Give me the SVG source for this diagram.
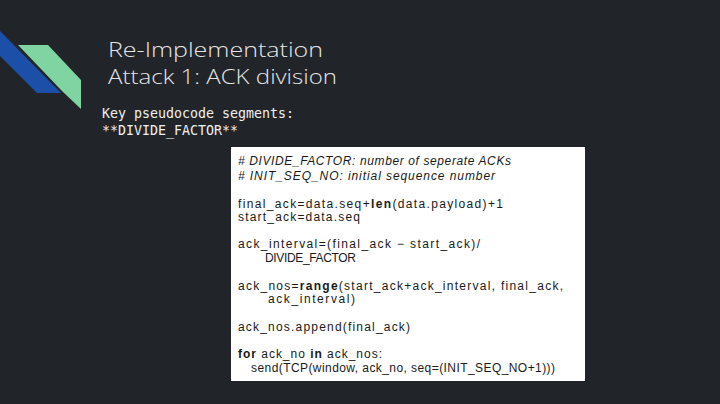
<svg xmlns="http://www.w3.org/2000/svg" width="720" height="404" viewBox="0 0 720 404">
<style>
.t{font-family:"Open Sans","Liberation Sans",sans-serif;font-weight:300;font-size:20px;fill:#e6e6e6}
.m{font-family:"DejaVu Sans Mono","Liberation Mono",monospace;font-size:13.3px;fill:#f0f0f0}
.c{font-family:"Liberation Sans",Arial,sans-serif;font-size:12px;fill:#1a1a1a}
.i{font-style:italic}
.b{font-weight:bold}
</style>
<rect width="720" height="404" fill="#212429"/>
<g id="deco">
<polygon points="0,31 0,56 37,93 61,93" fill="#1b4fa8"/>
<polygon points="18,45 48,45 81,80 81,109 62,91" fill="#7fd4a2"/>
</g>
<g id="title">
<text class="t" x="108" y="57" textLength="215" lengthAdjust="spacingAndGlyphs">Re-Implementation</text>
<text class="t" x="108" y="84" textLength="229" lengthAdjust="spacingAndGlyphs">Attack 1: ACK division</text>
</g>
<g id="sub">
<text class="m" x="102" y="118">Key pseudocode segments:</text>
<text class="m" x="102" y="135">**DIVIDE_FACTOR**</text>
</g>
<g id="code">
<rect x="231" y="147" width="354" height="234" fill="#ffffff"/>
<text class="c i" x="238" y="165" textLength="273" lengthAdjust="spacing"># DIVIDE_FACTOR: number of seperate ACKs</text>
<text class="c i" x="238" y="180" textLength="257" lengthAdjust="spacing"># INIT_SEQ_NO: initial sequence number</text>
<text class="c" x="238" y="208" textLength="265" lengthAdjust="spacing">final_ack=data.seq+<tspan class="b">len</tspan>(data.payload)+1</text>
<text class="c" x="238" y="221" textLength="122" lengthAdjust="spacing">start_ack=data.seq</text>
<text class="c" x="238" y="248" textLength="242" lengthAdjust="spacing">ack_interval=(final_ack − start_ack)/</text>
<text class="c" x="265" y="262" textLength="91" lengthAdjust="spacing">DIVIDE_FACTOR</text>
<text class="c" x="238" y="290" textLength="325" lengthAdjust="spacing">ack_nos=<tspan class="b">range</tspan>(start_ack+ack_interval, final_ack,</text>
<text class="c" x="268" y="303" textLength="87" lengthAdjust="spacing">ack_interval)</text>
<text class="c" x="238" y="331" textLength="172" lengthAdjust="spacing">ack_nos.append(final_ack)</text>
<text class="c" x="238" y="358" textLength="144" lengthAdjust="spacing"><tspan class="b">for</tspan> ack_no <tspan class="b">in</tspan> ack_nos:</text>
<text class="c" x="251" y="372" textLength="304" lengthAdjust="spacing">send(TCP(window, ack_no, seq=(INIT_SEQ_NO+1)))</text>
</g>
</svg>
